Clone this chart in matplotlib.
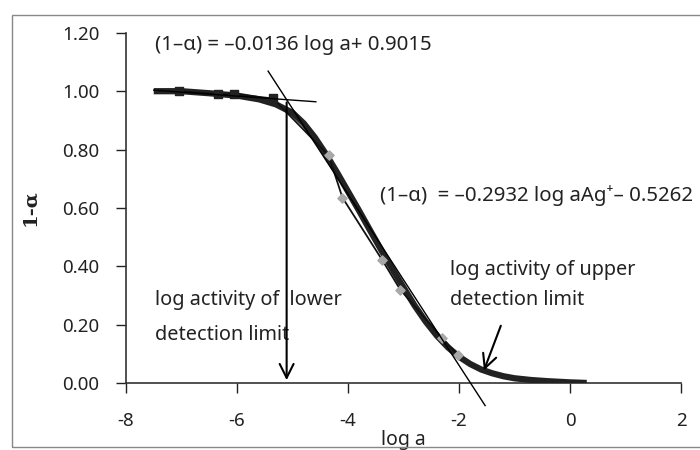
import numpy as np
import matplotlib.pyplot as plt
from matplotlib.patches import Rectangle

plt.rcParams['font.family'] = ['Noto Sans', 'DejaVu Sans']

# fitted response curve of 1-alpha against log a
curve_x = [-7.5, -7.0, -6.5, -6.0, -5.6, -5.3, -5.0, -4.8, -4.6, -4.4, -4.2, -4.0,
           -3.8, -3.6, -3.4, -3.2, -3.0, -2.8, -2.6, -2.4, -2.2, -2.0, -1.8, -1.6,
           -1.4, -1.2, -1.0, -0.7, -0.4, 0.0, 0.3]
curve_y = [1.0, 1.0, 0.993, 0.985, 0.972, 0.955, 0.926, 0.89, 0.842, 0.785, 0.722, 0.656,
           0.59, 0.522, 0.455, 0.39, 0.327, 0.265, 0.21, 0.162, 0.122, 0.09, 0.065, 0.046,
           0.033, 0.023, 0.016, 0.01, 0.006, 0.002, 0.0]

# measured points
pts_x = [-7.05, -6.35, -6.05, -5.35, -4.35, -4.1, -3.38, -3.06, -2.31, -2.02]
pts_y = [1.0, 0.99, 0.99, 0.975, 0.78, 0.635, 0.42, 0.32, 0.155, 0.095]

# linear fits: (1-a) = slope * log a + intercept
flat_slope, flat_icpt = -0.0136, 0.9015
steep_slope, steep_icpt = -0.2932, -0.5262
flat_range = [-7.5, -4.58]
steep_range = [-5.44, -1.53]

fig = plt.figure(figsize=(7, 4.5), dpi=100)
ax = fig.add_axes([0.18, 0.149, 0.793, 0.778])

# outer chart border
fig.patches.append(Rectangle((12 / 700, 3 / 450), 1.2, 0.961, transform=fig.transFigure,
                             fill=False, edgecolor='#888888', lw=1.0))

ax.plot(curve_x, curve_y, color='#222222', lw=4.5, solid_capstyle='butt', zorder=3)
ax.plot(pts_x, pts_y, color='#111111', lw=1.3, zorder=4)
ax.scatter(pts_x[:4], pts_y[:4], marker='s', s=40, color='#222222', zorder=5)
ax.scatter(pts_x[4:], pts_y[4:], marker='D', s=22, color='#a8a8a8', zorder=5)

fx = np.array(flat_range)
ax.plot(fx, flat_slope * fx + flat_icpt, color='black', lw=1.0, zorder=6)
sx = np.array(steep_range)
ax.plot(sx, steep_slope * sx + steep_icpt, color='black', lw=1.0, zorder=6, clip_on=False)

# detection limits
x_low = (steep_icpt - flat_icpt) / (flat_slope - steep_slope)
y_low = flat_slope * x_low + flat_icpt
ax.annotate('', xy=(x_low, 0.0), xytext=(x_low, y_low),
            arrowprops=dict(arrowstyle='->,head_length=1.0,head_width=0.5', color='black', lw=1.5),
            zorder=7)
ax.annotate('', xy=(-1.57, 0.034), xytext=(-1.23, 0.205),
            arrowprops=dict(arrowstyle='->,head_length=1.0,head_width=0.5', color='black', lw=1.5),
            zorder=7)

ax.text(-7.48, 1.157, '(1–α) = –0.0136 log a+ 0.9015', fontsize=14.7, va='center', color='#222222')
ax.text(-3.42, 0.644, '(1–α)  = –0.2932 log aAg⁺– 0.5262', fontsize=14.7, va='center',
        color='#222222')
ax.text(-2.16, 0.387, 'log activity of upper', fontsize=14.3, va='center', color='#222222')
ax.text(-2.16, 0.284, 'detection limit', fontsize=14.3, va='center', color='#222222')
ax.text(-7.48, 0.284, 'log activity of  lower', fontsize=14.3, va='center', color='#222222')
ax.text(-7.48, 0.164, 'detection limit', fontsize=14.3, va='center', color='#222222')

ax.set_xlim(-8, 2)
ax.set_ylim(0, 1.2)
xticks = list(range(-8, 3, 2))
ax.set_xticks(xticks)
ax.set_xticklabels([str(t) for t in xticks])
yticks = np.arange(0, 1.21, 0.2)
ax.set_yticks(yticks)
ax.set_yticklabels([f'{v:.2f}' for v in yticks])
ax.tick_params(labelsize=13.5, colors='#222222', length=7, width=1.0)
ax.tick_params(axis='x', pad=14)
ax.tick_params(axis='y', pad=12)
for s in ['top', 'right']:
    ax.spines[s].set_visible(False)
for s in ['left', 'bottom']:
    ax.spines[s].set_color('#333333')
    ax.spines[s].set_linewidth(1.2)

ax.set_xlabel('log a', fontsize=14, color='#222222', labelpad=0)
ax.set_ylabel('1-α', fontsize=14, fontweight='bold', family='DejaVu Serif', color='#222222',
              labelpad=17)

fig.savefig('out.png', dpi=100)
